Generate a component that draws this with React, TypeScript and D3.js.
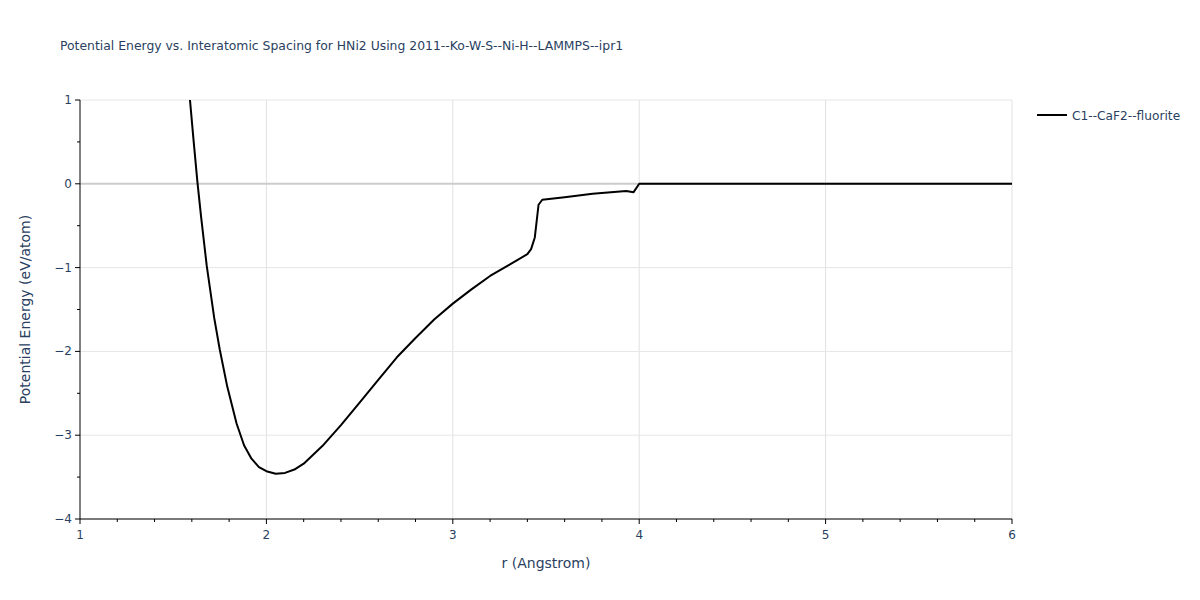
import * as d3 from 'd3'

const rValues = [
  1.59, 1.61, 1.63, 1.65, 1.68, 1.72, 1.75, 1.79, 1.84, 1.88, 1.92, 1.96, 2.0, 2.05, 2.1, 2.15, 2.2,
  2.3, 2.4, 2.5, 2.6, 2.7, 2.8, 2.9, 3.0, 3.1, 3.2, 3.3, 3.4, 3.42, 3.44, 3.46, 3.48, 3.6, 3.75,
  3.93, 3.97, 4.0, 4.5, 5.0, 5.5, 6.0,
]
const energies = [
  1.0, 0.5, 0.02, -0.4, -0.98, -1.6, -1.98, -2.42, -2.86, -3.12, -3.28, -3.38, -3.43, -3.46, -3.45,
  -3.41, -3.34, -3.13, -2.88, -2.61, -2.34, -2.07, -1.84, -1.62, -1.43, -1.26, -1.1, -0.97, -0.84,
  -0.78, -0.64, -0.25, -0.19, -0.16, -0.12, -0.085, -0.1, 0, 0, 0, 0, 0,
]
const xTicks = [1, 2, 3, 4, 5, 6]
const yTicks = [1, 0, -1, -2, -3, -4]
const seriesName = 'C1--CaF2--fluorite'

const W = 1200
const H = 600
const M = { left: 80, right: 1012, top: 100, bottom: 519 }
const font = '"DejaVu Sans", verdana, arial, sans-serif'
const textColor = '#2a3f5f'

export default function App() {
  const x = d3.scaleLinear().domain([1, 6]).range([M.left, M.right])
  const y = d3.scaleLinear().domain([-4, 1]).range([M.bottom, M.top])

  const points = rValues.map((r, i) => [r, energies[i]] as [number, number])
  const path = d3
    .line<[number, number]>()
    .x((d) => x(d[0]))
    .y((d) => y(d[1]))(points)

  const xMinor = d3.range(1, 6.001, 0.2).filter((v) => Math.abs(v - Math.round(v)) > 1e-6)
  const yMinor = d3.range(-4, 1.001, 0.5).filter((v) => Math.abs(v - Math.round(v)) > 1e-6)

  return (
    <svg width={W} height={H} style={{ position: 'absolute', left: 0, top: 0, background: '#fff' }}>
      <text x={60} y={50} fontFamily={font} fontSize={12.4} fill={textColor}>
        Potential Energy vs. Interatomic Spacing for HNi2 Using 2011--Ko-W-S--Ni-H--LAMMPS--ipr1
      </text>

      {xTicks.slice(1).map((t) => (
        <line key={'gx' + t} x1={x(t)} x2={x(t)} y1={M.top} y2={M.bottom} stroke="#e1e1e1" strokeWidth={1} />
      ))}
      {yTicks.map((t) => (
        <line
          key={'gy' + t}
          x1={M.left}
          x2={M.right}
          y1={y(t)}
          y2={y(t)}
          stroke={t === 0 ? '#cccccc' : '#e6e6e6'}
          strokeWidth={t === 0 ? 2 : 1}
        />
      ))}

      <clipPath id="plot-clip">
        <rect x={M.left} y={M.top} width={M.right - M.left} height={M.bottom - M.top} />
      </clipPath>
      <path d={path ?? ''} fill="none" stroke="#000" strokeWidth={2} clipPath="url(#plot-clip)" strokeLinejoin="round" />

      {/* axes */}
      <line x1={M.left} x2={M.right} y1={M.bottom} y2={M.bottom} stroke="#000" strokeWidth={1} />
      <line x1={M.left} x2={M.left} y1={M.top} y2={M.bottom} stroke="#000" strokeWidth={1} />
      {xTicks.map((t) => (
        <g key={'xt' + t}>
          <line x1={x(t)} x2={x(t)} y1={M.bottom} y2={M.bottom + 5} stroke="#000" />
          <text x={x(t)} y={M.bottom + 20} textAnchor="middle" fontFamily={font} fontSize={12} fill={textColor}>
            {t}
          </text>
        </g>
      ))}
      {xMinor.map((t) => (
        <line key={'xm' + t} x1={x(t)} x2={x(t)} y1={M.bottom} y2={M.bottom + 3} stroke="#000" />
      ))}
      {yTicks.map((t) => (
        <g key={'yt' + t}>
          <line x1={M.left - 5} x2={M.left} y1={y(t)} y2={y(t)} stroke="#000" />
          <text x={M.left - 8} y={y(t) + 4} textAnchor="end" fontFamily={font} fontSize={12} fill={textColor}>
            {t < 0 ? '\u2212' + Math.abs(t) : t}
          </text>
        </g>
      ))}
      {yMinor.map((t) => (
        <line key={'ym' + t} x1={M.left - 3} x2={M.left} y1={y(t)} y2={y(t)} stroke="#000" />
      ))}

      <text x={(M.left + M.right) / 2} y={568} textAnchor="middle" fontFamily={font} fontSize={14} fill={textColor}>
        r (Angstrom)
      </text>
      <text
        transform={`translate(30, ${(M.top + M.bottom) / 2}) rotate(-90)`}
        textAnchor="middle"
        fontFamily={font}
        fontSize={14}
        fill={textColor}
      >
        Potential Energy (eV/atom)
      </text>

      {/* legend */}
      <line x1={1037} x2={1067} y1={115} y2={115} stroke="#000" strokeWidth={2} />
      <text x={1072} y={119.5} fontFamily={font} fontSize={12.2} fill={textColor}>
        {seriesName}
      </text>
    </svg>
  )
}
